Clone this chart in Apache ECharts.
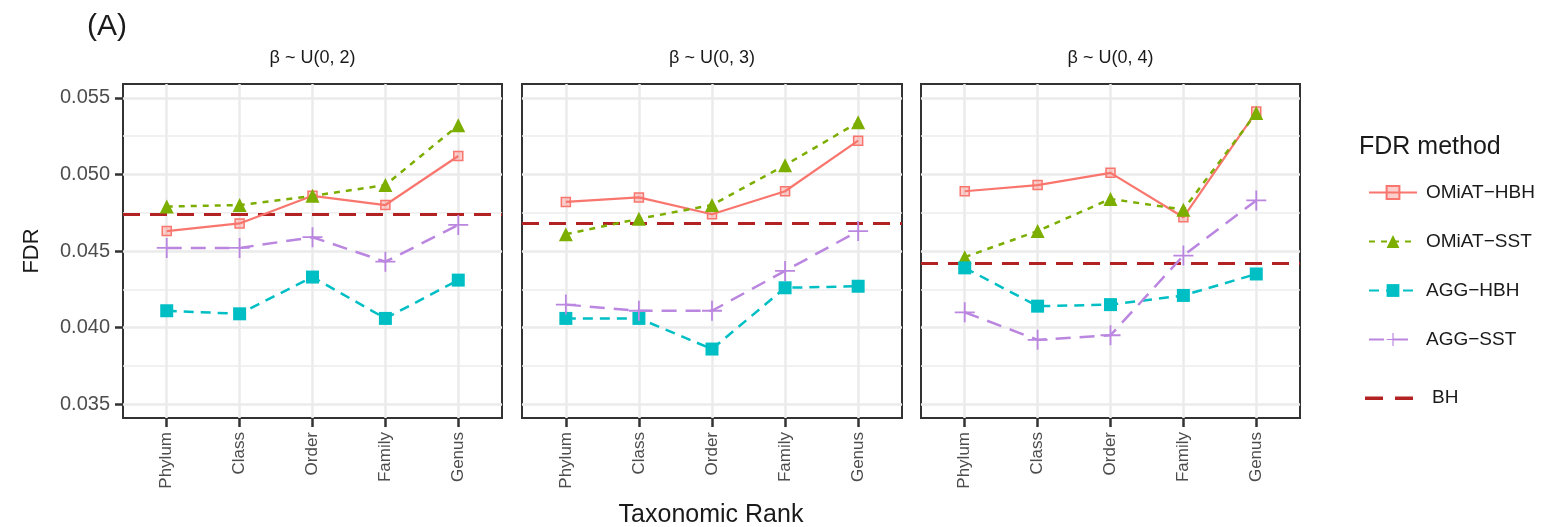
<!DOCTYPE html>
<html>
<head>
<meta charset="utf-8">
<script src="https://cdn.jsdelivr.net/npm/echarts@6/dist/echarts.min.js"></script>
<style>
  html, body { margin: 0; padding: 0; background: #ffffff; }
  #chart { width: 1545px; height: 527px; }
</style>
</head>
<body>
<div id="chart"></div>
<script>
// Taxonomic ranks on the x axis of every panel
const categories = ['Phylum', 'Class', 'Order', 'Family', 'Genus'];
const panelTitles = ['β ~ U(0, 2)', 'β ~ U(0, 3)', 'β ~ U(0, 4)'];
const yTicks = [0.035, 0.040, 0.045, 0.050, 0.055];
const yMinorTicks = [0.0375, 0.0425, 0.0475, 0.0525];

// FDR by method, one row per panel (Phylum .. Genus)
const omiatHBH = [
  [0.0463, 0.0468, 0.0486, 0.0480, 0.0512],
  [0.0482, 0.0485, 0.0474, 0.0489, 0.0522],
  [0.0489, 0.0493, 0.0501, 0.0472, 0.0541]
];
const omiatSST = [
  [0.0479, 0.0480, 0.0486, 0.0493, 0.0532],
  [0.0461, 0.0471, 0.0480, 0.0506, 0.0534],
  [0.0446, 0.0463, 0.0484, 0.0477, 0.0540]
];
const aggHBH = [
  [0.0411, 0.0409, 0.0433, 0.0406, 0.0431],
  [0.0406, 0.0406, 0.0386, 0.0426, 0.0427],
  [0.0439, 0.0414, 0.0415, 0.0421, 0.0435]
];
const aggSST = [
  [0.0452, 0.0452, 0.0459, 0.0443, 0.0467],
  [0.0415, 0.0411, 0.0411, 0.0437, 0.0463],
  [0.0410, 0.0392, 0.0395, 0.0447, 0.0483]
];
const bhLevel = [0.0474, 0.0468, 0.0442];

const FONT = "'Liberation Sans', Arial, sans-serif";
const panels = [
  { left: 123, width: 379 },
  { left: 522, width: 380 },
  { left: 921, width: 379 }
];
const PANEL_TOP = 84, PANEL_H = 334;
const PLUS = 'path://M9.1,0 H10.9 V20 H9.1 Z M0,9.1 H20 V10.9 H0 Z';
const BH_COLOR = '#B22222';

const methods = [
  { name: 'OMiAT−HBH', data: omiatHBH, color: '#F8766D', dash: 'solid', width: 2.2,
    symbol: 'rect', size: 9, fill: 'rgba(248,118,109,0.35)', border: '#F8766D', bw: 1.5 },
  { name: 'OMiAT−SST', data: omiatSST, color: '#7CAE00', dash: [6, 6], width: 2.5,
    symbol: 'triangle', size: 14, fill: '#7CAE00', border: '#7CAE00', bw: 0 },
  { name: 'AGG−HBH', data: aggHBH, color: '#00BFC4', dash: [10, 7], width: 2.5,
    symbol: 'rect', size: 13, fill: '#00BFC4', border: '#00BFC4', bw: 0 },
  { name: 'AGG−SST', data: aggSST, color: '#BB86E0', dash: [15, 9], width: 2.5,
    symbol: PLUS, size: 20, fill: '#BB86E0', border: '#BB86E0', bw: 0 }
];

const grid = [], xAxis = [], yAxis = [], series = [];

panels.forEach((p, k) => {
  grid.push({
    left: p.left, top: PANEL_TOP, width: p.width, height: PANEL_H,
    show: true, backgroundColor: '#ffffff', borderColor: '#333333', borderWidth: 2
  });
  xAxis.push({
    type: 'value', gridIndex: k, min: -0.6, max: 4.6,
    axisLine: { show: false, onZero: false }, splitLine: { show: false },
    axisTick: { show: true, customValues: [0, 1, 2, 3, 4], length: 9,
      lineStyle: { color: '#333333', width: 2.5 } },
    axisLabel: { show: true, customValues: [0, 1, 2, 3, 4], rotate: 90, margin: 14,
      fontSize: 17, color: '#4D4D4D', fontFamily: FONT,
      formatter: v => categories[Math.round(v)] }
  });
  yAxis.push({
    type: 'value', gridIndex: k, min: 0.0341, max: 0.0559,
    axisLine: { show: false, onZero: false }, splitLine: { show: false },
    axisTick: { show: k === 0, customValues: yTicks, length: 8,
      lineStyle: { color: '#333333', width: 2.5 } },
    axisLabel: { show: k === 0, customValues: yTicks, margin: 13,
      fontSize: 20, color: '#4D4D4D', fontFamily: FONT,
      formatter: v => v.toFixed(3) }
  });

  // panel grid lines
  const gridLines = [];
  yMinorTicks.forEach(v => gridLines.push({ yAxis: v, lineStyle: { color: '#EDEDED', width: 1.5, type: 'solid' } }));
  yTicks.forEach(v => gridLines.push({ yAxis: v, lineStyle: { color: '#EBEBEB', width: 2.5, type: 'solid' } }));
  categories.forEach((c, i) => gridLines.push({ xAxis: i, lineStyle: { color: '#EBEBEB', width: 2.5, type: 'solid' } }));
  series.push({
    type: 'line', xAxisIndex: k, yAxisIndex: k, data: [], silent: true, z: 1,
    markLine: { silent: true, z: 1, precision: 6, symbol: ['none', 'none'], label: { show: false },
      animation: false, data: gridLines }
  });

  // BH reference level
  series.push({
    name: 'BH', type: 'line', xAxisIndex: k, yAxisIndex: k, data: [], symbol: 'none', z: 3,
    lineStyle: { color: BH_COLOR, width: 3, type: [17, 10] },
    markLine: { silent: true, z: 3, precision: 6, symbol: ['none', 'none'], label: { show: false }, animation: false,
      lineStyle: { color: BH_COLOR, width: 3, type: [17, 10] },
      data: [{ yAxis: bhLevel[k] }] }
  });

  methods.forEach(m => {
    series.push({
      name: m.name, type: 'line', xAxisIndex: k, yAxisIndex: k, z: 4,
      data: m.data[k].map((v, i) => [i, v]),
      symbol: m.symbol, symbolSize: m.size,
      lineStyle: { color: m.color, width: m.width, type: m.dash },
      itemStyle: { color: m.fill, borderColor: m.border, borderWidth: m.bw },
      emphasis: { disabled: true }
    });
  });
});

const graphic = [
  { type: 'text', x: 87, y: 27, style: { text: '(A)', fontSize: 30, fontFamily: FONT, fill: '#1a1a1a', align: 'left', verticalAlign: 'middle' } },
  { type: 'text', x: 32, y: 251, rotation: Math.PI / 2,
    style: { text: 'FDR', fontSize: 22, fontFamily: FONT, fill: '#1a1a1a', align: 'center', verticalAlign: 'middle' } },
  { type: 'text', x: 711, y: 515,
    style: { text: 'Taxonomic Rank', fontSize: 25, fontFamily: FONT, fill: '#1a1a1a', align: 'center', verticalAlign: 'middle' } },
  { type: 'text', x: 1359, y: 147,
    style: { text: 'FDR method', fontSize: 25, fontFamily: FONT, fill: '#1a1a1a', align: 'left', verticalAlign: 'middle' } },
  // BH legend key (dashed reference line)
  { type: 'rect', shape: { x: 1365, y: 396.5, width: 18, height: 3.5 }, style: { fill: BH_COLOR } },
  { type: 'rect', shape: { x: 1395, y: 396.5, width: 18, height: 3.5 }, style: { fill: BH_COLOR } },
  { type: 'text', x: 1432, y: 398,
    style: { text: 'BH', fontSize: 19, fontFamily: FONT, fill: '#1a1a1a', align: 'left', verticalAlign: 'middle' } }
];
panels.forEach((p, k) => {
  graphic.push({ type: 'text', x: p.left + p.width / 2, y: 58,
    style: { text: panelTitles[k], fontSize: 18, fontFamily: FONT, fill: '#1a1a1a', align: 'center', verticalAlign: 'middle' } });
});

const chart = echarts.init(document.getElementById('chart'), null, { renderer: 'canvas' });
chart.setOption({
  animation: false,
  backgroundColor: '#ffffff',
  grid, xAxis, yAxis, series, graphic,
  legend: {
    orient: 'vertical', left: 1363, top: 178, itemWidth: 48, itemHeight: 16, itemGap: 30,
    selectedMode: false, data: methods.map(m => m.name),
    textStyle: { fontSize: 19, fontFamily: FONT, color: '#1a1a1a', padding: [0, 0, 0, 4] }
  }
});
</script>
</body>
</html>
